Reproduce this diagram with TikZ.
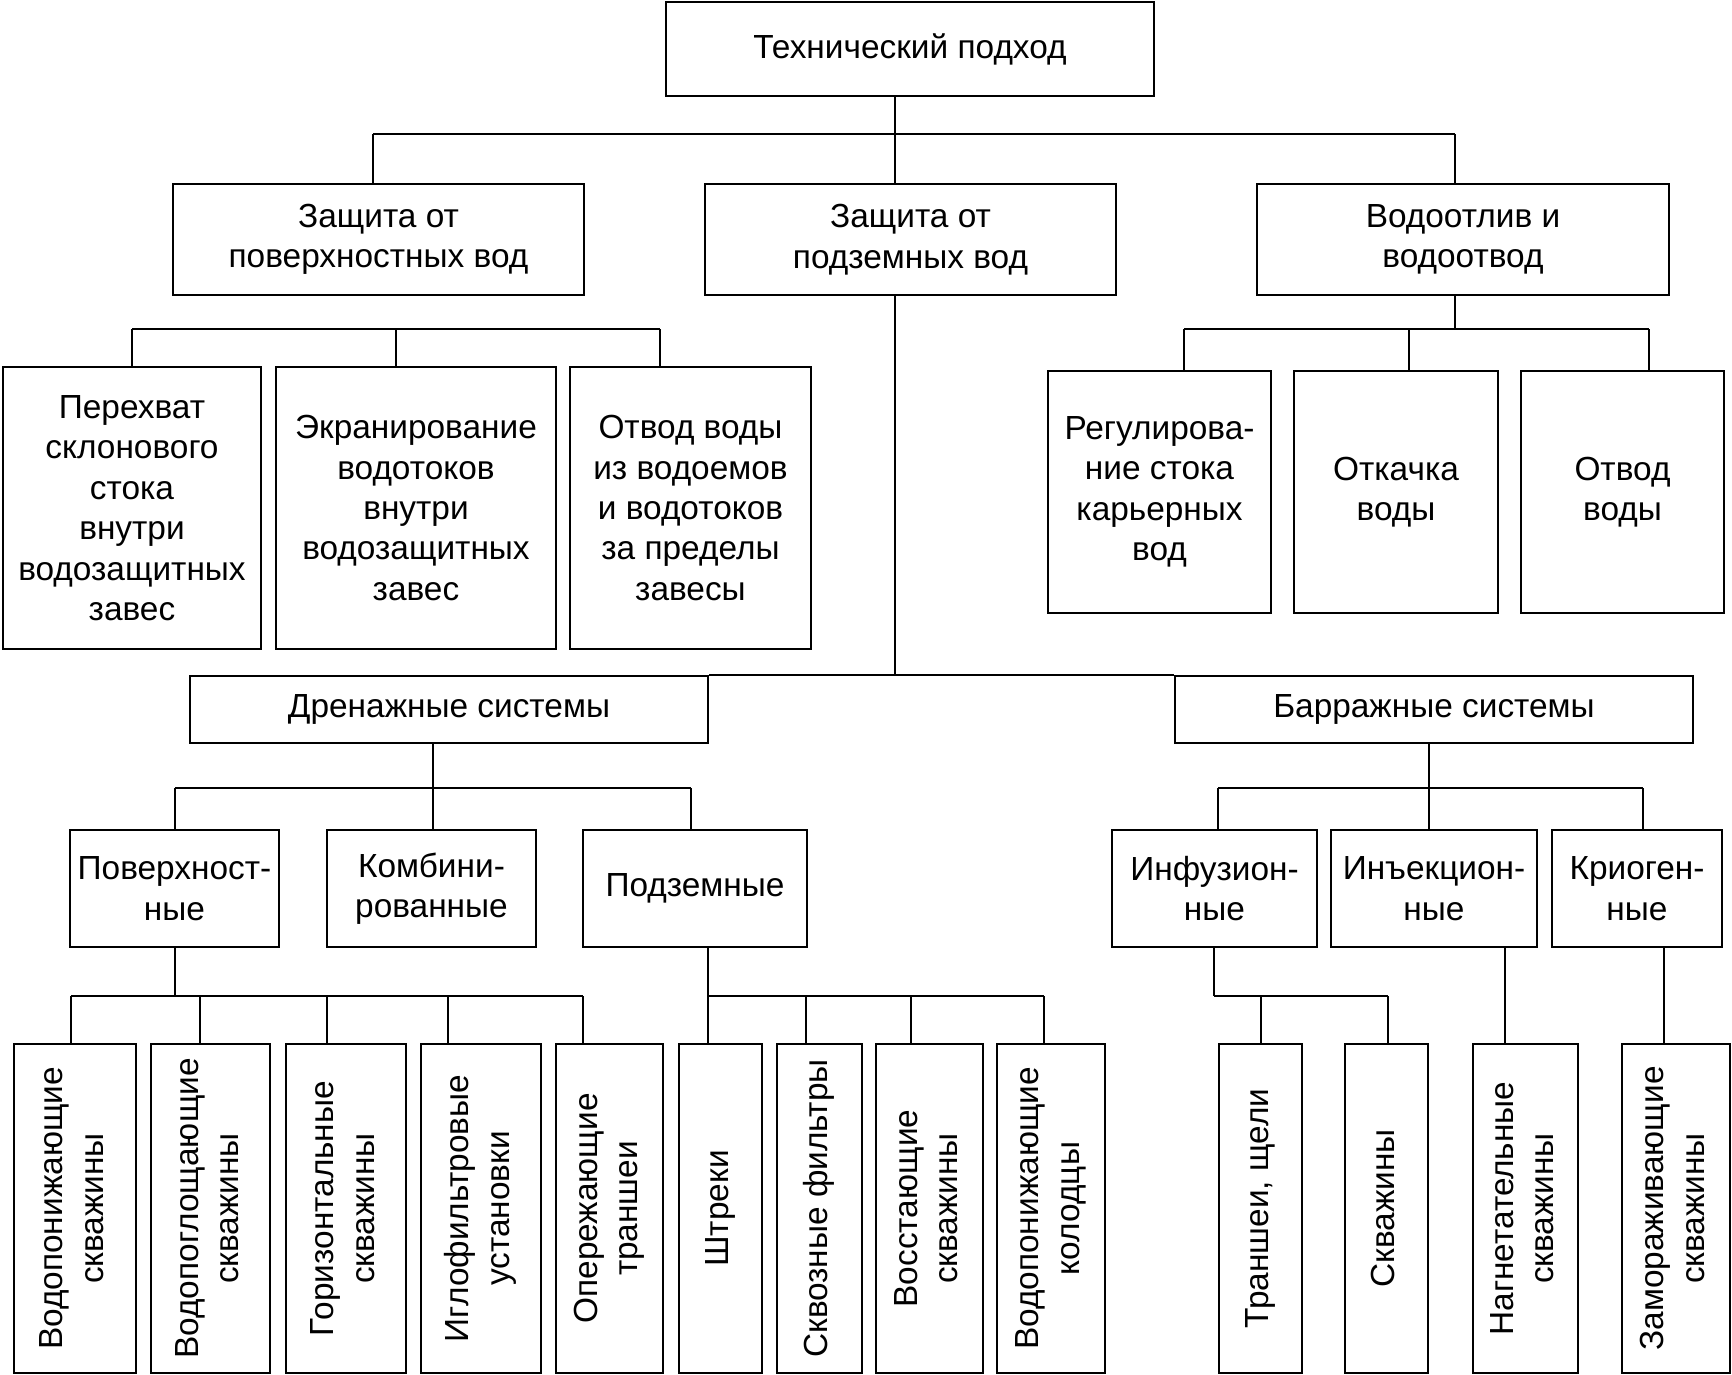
\documentclass[tikz,border=0pt]{standalone}
\usepackage{fontspec,graphicx}
\setmainfont{Liberation Sans}
\newcommand{\vtext}[1]{\rotatebox{90}{\begin{tabular}{@{}c@{}}#1\end{tabular}}}

\begin{document}
\begin{tikzpicture}[x=0.01cm,y=-0.01cm,line width=0.5pt,
    box/.style={draw,align=center,inner sep=0pt,font=\fontsize{9.5}{11.5}\selectfont},
    tall/.style={box,minimum height=3.29cm}]
    \useasboundingbox (0,0) rectangle (1732,1375);
    \node[box,minimum width=4.88cm,minimum height=0.94cm] (top) at (910,49) {Технический подход};
    \node[box,minimum width=4.11cm,minimum height=1.11cm] (surf) at (378.5,239.5) {Защита от\\поверхностных вод};
    \node[box,minimum width=4.11cm,minimum height=1.11cm] (under) at (910.5,239.5) {Защита от\\подземных вод};
    \node[box,minimum width=4.12cm,minimum height=1.11cm] (pump) at (1463,239.5) {Водоотлив и\\водоотвод};
    \node[box,minimum width=2.58cm,minimum height=2.82cm] (slope) at (132,508) {Перехват\\склонового\\стока\\внутри\\водозащитных\\завес};
    \node[box,minimum width=2.80cm,minimum height=2.82cm] (screen) at (416,508) {Экранирование\\водотоков\\внутри\\водозащитных\\завес};
    \node[box,minimum width=2.41cm,minimum height=2.82cm] (divert) at (690.5,508) {Отвод воды\\из водоемов\\и водотоков\\за пределы\\завесы};
    \node[box,minimum width=2.23cm,minimum height=2.42cm] (regul) at (1159.5,492) {Регулирова-\\ние стока\\карьерных\\вод};
    \node[box,minimum width=2.04cm,minimum height=2.42cm] (pumpout) at (1396,492) {Откачка\\воды};
    \node[box,minimum width=2.03cm,minimum height=2.42cm] (outlet) at (1622.5,492) {Отвод\\воды};
    \node[box,minimum width=5.18cm,minimum height=0.67cm] (dren) at (449,709.5) {Дренажные системы};
    \node[box,minimum width=5.18cm,minimum height=0.67cm] (barr) at (1434,709.5) {Барражные системы};
    \node[box,minimum width=2.09cm,minimum height=1.17cm] (surfdr) at (174.5,888.5) {Поверхност-\\ные};
    \node[box,minimum width=2.09cm,minimum height=1.17cm] (comb) at (431.5,888.5) {Комбини-\\рованные};
    \node[box,minimum width=2.24cm,minimum height=1.17cm] (undr) at (695,888.5) {Подземные};
    \node[box,minimum width=2.05cm,minimum height=1.17cm] (infus) at (1214.5,888.5) {Инфузион-\\ные};
    \node[box,minimum width=2.06cm,minimum height=1.17cm] (inject) at (1434,888.5) {Инъекцион-\\ные};
    \node[box,minimum width=1.70cm,minimum height=1.17cm] (cryo) at (1637,888.5) {Криоген-\\ные};
    \node[tall,minimum width=1.22cm] (w1) at (75,1208.5) {\vtext{Водопонижающие\\скважины}};
    \node[tall,minimum width=1.19cm] (w2) at (210.5,1208.5) {\vtext{Водопоглощающие\\скважины}};
    \node[tall,minimum width=1.20cm] (w3) at (346,1208.5) {\vtext{Горизонтальные\\скважины}};
    \node[tall,minimum width=1.20cm] (w4) at (481,1208.5) {\vtext{Иглофильтровые\\установки}};
    \node[tall,minimum width=1.07cm] (w5) at (609.5,1208.5) {\vtext{Опережающие\\траншеи}};
    \node[tall,minimum width=0.83cm] (u1) at (720.5,1208.5) {\vtext{Штреки}};
    \node[tall,minimum width=0.85cm] (u2) at (819.5,1208.5) {\vtext{Сквозные фильтры}};
    \node[tall,minimum width=1.07cm] (u3) at (929.5,1208.5) {\vtext{Восстающие\\скважины}};
    \node[tall,minimum width=1.08cm] (u4) at (1051,1208.5) {\vtext{Водопонижающие\\колодцы}};
    \node[tall,minimum width=0.83cm] (f1) at (1260.5,1208.5) {\vtext{Траншеи, щели}};
    \node[tall,minimum width=0.83cm] (f2) at (1386.5,1208.5) {\vtext{Скважины}};
    \node[tall,minimum width=1.05cm] (i1) at (1525.5,1208.5) {\vtext{Нагнетательные\\скважины}};
    \node[tall,minimum width=1.08cm] (c1) at (1676,1208.5) {\vtext{Замораживающие\\скважины}};
    \coordinate (j0) at (895,134);
    \coordinate (j1) at (373,134);
    \coordinate (j2) at (1455,134);
    \coordinate (k1) at (132,329);
    \coordinate (k2) at (396,329);
    \coordinate (k3) at (660,329);
    \coordinate (m1) at (1184,329);
    \coordinate (m2) at (1409,329);
    \coordinate (m3) at (1649,329);
    \coordinate (n0) at (895,676);
    \coordinate (p1) at (175,788);
    \coordinate (p2) at (433,788);
    \coordinate (p3) at (691,788);
    \coordinate (q1) at (1218,788);
    \coordinate (q2) at (1429,788);
    \coordinate (q3) at (1643,788);
    \coordinate (r0) at (175,996);
    \coordinate (r1) at (71,996);
    \coordinate (r2) at (200,996);
    \coordinate (r3) at (327,996);
    \coordinate (r4) at (448,996);
    \coordinate (r5) at (583,996);
    \coordinate (s1) at (708,996);
    \coordinate (s2) at (806,996);
    \coordinate (s3) at (911,996);
    \coordinate (s4) at (1044,996);
    \coordinate (t0) at (1214,996);
    \coordinate (t1) at (1261,996);
    \coordinate (t2) at (1388,996);
    \coordinate (v0) at (1505,996);
    \coordinate (z0) at (1664,996);
    \draw (top.south -| j0) -- (under.north -| j0);
    \draw (j1) -- (j2);
    \draw (j1) -- (surf.north -| j1);
    \draw (j2) -- (pump.north -| j2);
    \draw (surf.south -| j1) -- (surf.south -| j1 |- k1);
    \draw (k1) -- (k3);
    \foreach \a/\b in {k1/slope,k2/screen,k3/divert}
        \draw (\a) -- (\b.north -| \a);
    \draw (pump.south -| j2) -- (j2 |- m1);
    \draw (m1) -- (m3);
    \foreach \a/\b in {m1/regul,m2/pumpout,m3/outlet}
        \draw (\a) -- (\b.north -| \a);
    \draw (under.south -| n0) -- (n0);
    \draw (dren.north east) -- (barr.north west);
    \draw (dren.south -| p2) -- (p2);
    \draw (p1) -- (p3);
    \foreach \a/\b in {p1/surfdr,p2/comb,p3/undr}
        \draw (\a) -- (\b.north -| \a);
    \draw (barr.south -| q2) -- (q2);
    \draw (q1) -- (q3);
    \foreach \a/\b in {q1/infus,q2/inject,q3/cryo}
        \draw (\a) -- (\b.north -| \a);
    \draw (surfdr.south -| r0) -- (r0);
    \draw (r1) -- (r5);
    \foreach \a/\b in {r1/w1,r2/w2,r3/w3,r4/w4,r5/w5}
        \draw (\a) -- (\b.north -| \a);
    \draw (undr.south -| s1) -- (s1);
    \draw (s1) -- (s4);
    \foreach \a/\b in {s1/u1,s2/u2,s3/u3,s4/u4}
        \draw (\a) -- (\b.north -| \a);
    \draw (infus.south -| t0) -- (t0);
    \draw (t0) -- (t2);
    \foreach \a/\b in {t1/f1,t2/f2}
        \draw (\a) -- (\b.north -| \a);
    \draw (inject.south -| v0) -- (i1.north -| v0);
    \draw (cryo.south -| z0) -- (c1.north -| z0);
\end{tikzpicture}
\end{document}
